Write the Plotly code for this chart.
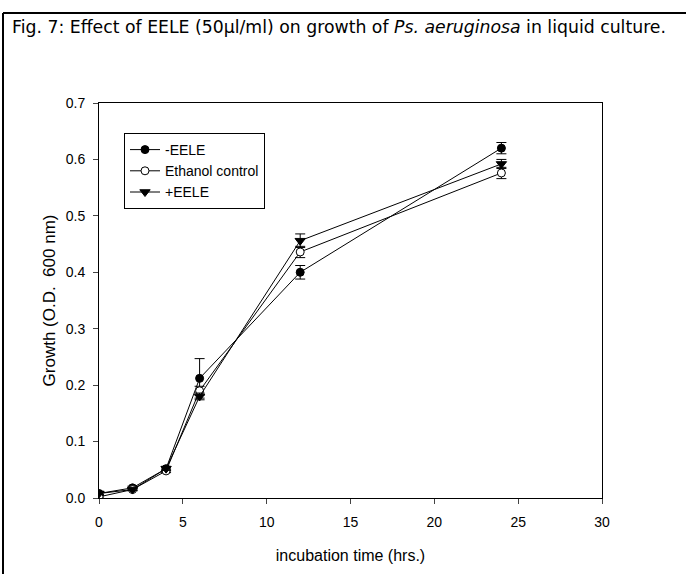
import plotly.graph_objects as go

time_hrs = [0, 2, 4, 6, 12, 24]

minus_eele = [0.008, 0.018, 0.052, 0.212, 0.400, 0.620]
minus_eele_err = [0.003, 0.003, 0.004, 0.035, 0.012, 0.010]

ethanol = [0.002, 0.015, 0.048, 0.190, 0.436, 0.576]
ethanol_err = [0.002, 0.002, 0.003, 0.008, 0.010, 0.010]

plus_eele = [0.008, 0.015, 0.052, 0.180, 0.456, 0.592]
plus_eele_err = [0.002, 0.002, 0.003, 0.006, 0.012, 0.008]

x_ticks = [0, 5, 10, 15, 20, 25, 30]
y_ticks = [0.0, 0.1, 0.2, 0.3, 0.4, 0.5, 0.6, 0.7]

W, H = 686, 574
L, R, T, B = 99, 84, 103, 76
pw, ph = W - L - R, H - T - B

def px_x(p):
    return (p - L) / pw

def px_y(p):
    return (H - B - p) / ph

fig = go.Figure()

def add(name, y, err, symbol, fill, size):
    fig.add_trace(go.Scatter(
        x=time_hrs, y=y, name=name, mode="lines+markers",
        line=dict(color="black", width=1),
        marker=dict(symbol=symbol, size=size,
                    color="black" if fill else "white",
                    line=dict(color="black", width=1)),
        error_y=dict(type="data", array=err, visible=True,
                     color="black", thickness=1, width=5),
    ))

add("-EELE", minus_eele, minus_eele_err, "circle", True, 8)
add("Ethanol control", ethanol, ethanol_err, "circle", False, 8)
add("+EELE", plus_eele, plus_eele_err, "triangle-down", True, 9)

font = "Liberation Sans, Arial, sans-serif"

fig.update_layout(
    width=W, height=H,
    margin=dict(l=L, r=R, t=T, b=B, autoexpand=False),
    paper_bgcolor="white", plot_bgcolor="white",
    font=dict(family=font, color="black", size=13),
    showlegend=True,
    legend=dict(
        x=px_x(124), y=px_y(133), xanchor="left", yanchor="top",
        bordercolor="black", borderwidth=1, bgcolor="white",
        font=dict(size=14, family=font), tracegroupgap=0,
        itemwidth=30,
    ),
    xaxis=dict(
        range=[0, 30], tickvals=x_ticks, ticks="outside", ticklen=5,
        showline=True, linecolor="black", linewidth=1, mirror=True,
        showgrid=False, zeroline=False, ticklabelstandoff=6,
        title=dict(text="incubation time (hrs.)", font=dict(size=16), standoff=21),
        tickfont=dict(size=14),
    ),
    yaxis=dict(
        range=[0, 0.7], tickvals=y_ticks, tickformat=".1f", ticks="outside", ticklen=5,
        showline=True, linecolor="black", linewidth=1, mirror=True,
        showgrid=False, zeroline=False, ticklabelstandoff=5,
        title=dict(text="Growth (O.D.&nbsp; 600 nm)", font=dict(size=17), standoff=5),
        tickfont=dict(size=14),
    ),
    shapes=[
        dict(type="line", xref="paper", yref="paper",
             x0=px_x(3), x1=px_x(3), y0=px_y(13), y1=px_y(580),
             line=dict(color="black", width=2)),
        dict(type="line", xref="paper", yref="paper",
             x0=px_x(3), x1=px_x(690), y0=px_y(13), y1=px_y(13),
             line=dict(color="black", width=2)),
    ],
    annotations=[
        dict(text="Fig. 7: Effect of EELE (50µl/ml) on growth of <i>Ps. aeruginosa</i> in liquid culture.",
             xref="paper", yref="paper", x=px_x(10), y=px_y(27),
             xanchor="left", yanchor="middle", showarrow=False,
             font=dict(size=17.3, family="DejaVu Sans, sans-serif")),
    ],
)

fig.write_html("out.html")
